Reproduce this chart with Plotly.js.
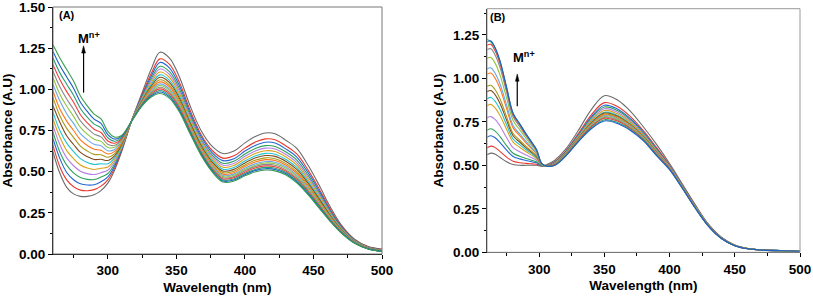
<!DOCTYPE html>
<html>
<head>
<meta charset="utf-8">
<script src="https://cdn.plot.ly/plotly-3.0.1.min.js"></script>
<style>html,body{margin:0;padding:0;background:#fff;}#chart{width:813px;height:296px;}</style>
</head>
<body>
<div id="chart"></div>
<script>
// ---------- Tick values ----------
const xTicks = [300, 350, 400, 450, 500];
const yTicksA = [0, 0.25, 0.5, 0.75, 1.0, 1.25, 1.5];
const yTicksB = [0, 0.25, 0.5, 0.75, 1.0, 1.25];

// ---------- Panel A data ----------
const wlA = [260,265,270,275,280,285,290,295,300,305,310,318,325,332,338,345,352,360,368,376,384,392,400,408,415,422,430,438,446,454,462,470,480,490,500];
const A0  = [.62,.49,.405,.365,.35,.35,.36,.385,.43,.51,.62,.825,.98,1.13,1.225,1.19,1.08,.90,.75,.655,.61,.625,.675,.715,.735,.73,.69,.64,.54,.42,.29,.18,.09,.045,.03];
const A1  = [.66,.53,.45,.408,.388,.384,.391,.412,.45,.523,.626,.824,.967,1.102,1.185,1.151,1.046,.873,.726,.63,.582,.596,.643,.681,.699,.694,.656,.606,.511,.398,.276,.172,.086,.043,.028];
const A2  = [.70,.58,.495,.451,.426,.419,.421,.439,.469,.535,.633,.824,.96,1.086,1.163,1.129,1.026,.857,.713,.616,.567,.579,.625,.661,.679,.674,.637,.587,.495,.385,.267,.168,.084,.041,.026];
const A3  = [.74,.62,.54,.493,.464,.453,.452,.467,.489,.548,.639,.823,.953,1.07,1.14,1.107,1.007,.842,.699,.602,.551,.563,.607,.642,.658,.653,.619,.569,.479,.372,.259,.163,.082,.04,.025];
const A4  = [.78,.665,.584,.536,.503,.488,.483,.494,.509,.56,.645,.823,.947,1.058,1.123,1.09,.992,.83,.689,.591,.539,.55,.593,.627,.643,.638,.604,.554,.466,.363,.253,.16,.08,.039,.024];
const A5  = [.82,.71,.628,.579,.541,.522,.513,.521,.528,.573,.651,.822,.942,1.046,1.105,1.072,.977,.818,.678,.581,.527,.538,.579,.612,.627,.622,.589,.539,.454,.353,.247,.156,.078,.038,.023];
const A6  = [.86,.75,.673,.622,.579,.556,.544,.548,.548,.585,.658,.821,.936,1.034,1.088,1.055,.962,.806,.668,.57,.515,.525,.565,.597,.611,.606,.574,.524,.441,.343,.24,.153,.076,.037,.022];
const A7  = [.90,.80,.718,.665,.617,.591,.574,.575,.568,.598,.664,.821,.931,1.023,1.073,1.041,.949,.796,.659,.56,.504,.514,.553,.584,.598,.593,.562,.512,.43,.335,.235,.15,.075,.036,.021];
const A8  = [.95,.84,.763,.708,.655,.625,.605,.603,.588,.61,.67,.82,.926,1.013,1.058,1.026,.936,.786,.65,.551,.494,.503,.541,.571,.584,.579,.549,.499,.419,.326,.23,.147,.073,.035,.02];
const A9  = [.99,.88,.807,.75,.693,.659,.636,.63,.607,.623,.676,.82,.922,1.004,1.045,1.014,.925,.778,.642,.543,.485,.494,.531,.56,.573,.568,.539,.489,.41,.319,.225,.144,.072,.034,.019];
const A10 = [1.03,.93,.852,.793,.731,.694,.666,.657,.627,.635,.683,.819,.918,.995,1.033,1.001,.914,.769,.635,.536,.477,.485,.521,.549,.562,.557,.528,.478,.401,.312,.221,.142,.071,.033,.018];
const A11 = [1.07,.97,.897,.836,.769,.728,.697,.684,.647,.648,.689,.819,.915,.988,1.023,.992,.906,.762,.629,.529,.47,.478,.513,.541,.553,.548,.52,.47,.394,.307,.217,.14,.07,.033,.018];
const A12 = [1.11,1.015,.941,.879,.808,.763,.728,.711,.666,.66,.695,.818,.912,.981,1.013,.982,.897,.755,.623,.523,.463,.47,.505,.532,.544,.539,.511,.461,.387,.301,.213,.138,.069,.032,.017];
const A13 = [1.15,1.06,.986,.922,.846,.797,.758,.738,.686,.673,.701,.817,.909,.974,1.003,.972,.889,.749,.617,.517,.456,.463,.497,.524,.535,.53,.503,.453,.38,.295,.21,.136,.068,.032,.017];
const A14 = [1.19,1.10,1.031,.964,.884,.831,.789,.766,.706,.685,.708,.817,.906,.967,.993,.962,.88,.742,.611,.511,.449,.456,.489,.515,.526,.521,.495,.445,.373,.29,.206,.134,.067,.031,.016];
const A15 = [1.23,1.145,1.075,1.007,.922,.866,.819,.793,.725,.698,.714,.816,.903,.961,.984,.954,.873,.736,.605,.505,.443,.449,.482,.508,.518,.513,.487,.437,.366,.285,.203,.132,.066,.031,.016];
const A16 = [1.27,1.19,1.12,1.05,.96,.90,.85,.82,.745,.71,.72,.815,.90,.955,.975,.945,.865,.73,.60,.50,.437,.443,.475,.50,.51,.505,.48,.43,.36,.28,.20,.13,.065,.03,.015];

// ---------- Panel B data ----------
const wlB = [260,263,266,270,275,280,285,290,295,298,302,306,312,320,330,340,350,360,370,380,390,400,410,420,430,440,450,460,470,485,500];
const B0  = [.56,.57,.565,.545,.52,.505,.50,.50,.50,.50,.495,.505,.53,.59,.70,.82,.90,.875,.81,.72,.62,.51,.39,.27,.16,.085,.042,.022,.014,.01,.007];
const B1  = [.60,.61,.603,.579,.547,.523,.515,.511,.508,.506,.496,.50,.522,.579,.682,.79,.86,.838,.78,.698,.602,.50,.383,.264,.157,.083,.041,.021,.014,.01,.007];
const B2  = [.661,.67,.66,.631,.587,.551,.537,.528,.519,.514,.497,.499,.519,.575,.675,.778,.845,.824,.768,.69,.595,.497,.381,.262,.155,.082,.04,.021,.014,.01,.007];
const B3  = [.701,.71,.698,.665,.613,.569,.552,.539,.527,.52,.498,.498,.517,.572,.671,.771,.835,.815,.761,.684,.591,.494,.379,.261,.155,.082,.04,.021,.014,.01,.007];
const B4  = [.772,.78,.765,.726,.66,.601,.578,.559,.541,.529,.50,.497,.514,.569,.666,.763,.825,.805,.753,.679,.586,.492,.377,.26,.154,.081,.04,.021,.013,.01,.007];
const B5  = [.842,.85,.832,.786,.707,.633,.604,.578,.554,.539,.502,.497,.512,.567,.662,.756,.815,.796,.746,.673,.582,.489,.375,.258,.153,.081,.04,.021,.013,.01,.007];
const B6  = [.882,.89,.87,.82,.733,.651,.619,.589,.562,.545,.502,.496,.51,.564,.657,.748,.805,.787,.738,.668,.577,.487,.374,.257,.152,.08,.039,.021,.013,.01,.006];
const B7  = [.923,.93,.908,.855,.76,.67,.634,.60,.57,.55,.503,.496,.509,.562,.655,.744,.80,.782,.734,.665,.575,.486,.373,.256,.152,.08,.039,.021,.013,.009,.006];
const B8  = [.953,.96,.937,.881,.78,.683,.645,.609,.576,.554,.504,.496,.508,.561,.653,.74,.795,.777,.73,.662,.573,.485,.372,.256,.151,.08,.039,.02,.013,.009,.006];
const B9  = [1.023,1.03,1.003,.941,.827,.715,.671,.628,.589,.564,.506,.495,.507,.56,.651,.737,.79,.773,.727,.659,.571,.483,.371,.255,.151,.08,.039,.02,.013,.009,.006];
const B10 = [1.054,1.06,1.032,.967,.847,.729,.682,.637,.595,.568,.506,.495,.506,.558,.648,.733,.785,.768,.723,.657,.568,.482,.37,.254,.15,.079,.039,.02,.013,.009,.006];
const B11 = [1.114,1.12,1.09,1.018,.887,.757,.705,.654,.607,.577,.508,.495,.505,.557,.646,.729,.78,.763,.719,.654,.566,.481,.369,.253,.15,.079,.039,.02,.013,.009,.006];
const B12 = [1.165,1.17,1.137,1.061,.92,.779,.723,.667,.616,.584,.509,.495,.504,.556,.644,.725,.775,.759,.715,.651,.564,.48,.368,.253,.15,.079,.038,.02,.013,.009,.006];
const B13 = [1.19,1.195,1.161,1.083,.937,.791,.733,.674,.621,.587,.51,.495,.503,.554,.642,.721,.77,.754,.711,.648,.562,.479,.368,.252,.149,.079,.038,.02,.013,.009,.006];
const B14 = [1.225,1.21,1.175,1.096,.947,.798,.738,.679,.624,.589,.51,.495,.501,.552,.638,.715,.762,.746,.705,.644,.558,.477,.366,.251,.149,.078,.038,.02,.013,.009,.006];
const B15 = [1.21,1.215,1.18,1.10,.95,.80,.74,.68,.625,.59,.51,.495,.50,.55,.635,.71,.755,.74,.70,.64,.555,.475,.365,.25,.148,.078,.038,.02,.013,.009,.006];

const seriesA = [A0,A1,A2,A3,A4,A5,A6,A7,A8,A9,A10,A11,A12,A13,A14,A15,A16];
const seriesB = [B0,B1,B2,B3,B4,B5,B6,B7,B8,B9,B10,B11,B12,B13,B14,B15];
const palette = ['#6b6b6b','#e8392f','#2466d4','#2fa15a','#b57fe3','#d9a21a','#22c3d3','#7c4a1e','#a89a1c','#ff7417','#6aa6ea','#8ec63f','#8a8a8a','#f03c3c','#2aa070','#1f5fc8','#3a9e50'];

const FONT = '"Liberation Sans", Arial, sans-serif';
const traces = [];
seriesA.forEach((ys, i) => traces.push({x: wlA, y: ys, type: 'scatter', mode: 'lines', xaxis: 'x', yaxis: 'y',
  line: {color: palette[i % palette.length], width: 1.1, shape: 'spline', smoothing: 1}, showlegend: false, hoverinfo: 'skip'}));
seriesB.forEach((ys, i) => traces.push({x: wlB, y: ys, type: 'scatter', mode: 'lines', xaxis: 'x2', yaxis: 'y2',
  line: {color: palette[i % palette.length], width: 1.1, shape: 'spline', smoothing: 1}, showlegend: false, hoverinfo: 'skip'}));

const tickFont = {family: FONT, size: 13.5, color: '#000', weight: 700};
const titleFont = {family: FONT, size: 13.5, color: '#000', weight: 700};
function xAx(domain, anchor) {
  return {domain: domain, anchor: anchor, range: [260, 500], tickmode: 'array', tickvals: xTicks, ticks: 'outside', ticklen: 4, tickwidth: 1,
    tickcolor: '#000', showline: true, linecolor: '#000', linewidth: 1, showgrid: false, zeroline: false, ticklabeloverflow: 'allow',
    minor: {dtick: 25, tick0: 0, ticks: 'outside', ticklen: 2.5, tickcolor: '#000', showgrid: false},
    tickfont: tickFont, title: {text: 'Wavelength (nm)', font: titleFont, standoff: 5}};
}
function yAx(domain, anchor, range, tv) {
  return {domain: domain, anchor: anchor, range: range, tickmode: 'array', tickvals: tv, tickformat: '.2f', ticks: 'outside', ticklen: 4,
    tickwidth: 1, tickcolor: '#000', showline: true, linecolor: '#000', linewidth: 1, showgrid: false, zeroline: false, ticklabeloverflow: 'allow',
    minor: {dtick: 0.125, tick0: 0, ticks: 'outside', ticklen: 2.5, tickcolor: '#000', showgrid: false},
    tickfont: tickFont, title: {text: 'Absorbance (A.U)', font: titleFont, standoff: 6}};
}

// arrow shafts drawn as shapes (text labels are annotations)
function arrowShapes(xr, yr, x, yTail, yHead, halfW, headH) {
  return [
    {type: 'line', xref: xr, yref: yr, x0: x, x1: x, y0: yTail, y1: yHead - headH * 0.6, line: {color: '#000', width: 1.2}},
    {type: 'path', xref: xr, yref: yr, path: `M ${x - halfW},${yHead - headH} L ${x + halfW},${yHead - headH} L ${x},${yHead} Z`,
      fillcolor: '#000', line: {color: '#000', width: 0.5}}
  ];
}

const layout = {
  width: 813, height: 296, margin: {l: 0, r: 0, t: 0, b: 0}, paper_bgcolor: '#fff', plot_bgcolor: '#fff',
  xaxis: xAx([53/813, 382/813], 'y'),
  yaxis: yAx([42/296, 289/296], 'x', [0, 1.5], yTicksA),
  xaxis2: xAx([487/813, 800/813], 'y2'),
  yaxis2: yAx([43.7/296, 287.3/296], 'x2', [0, 1.4], yTicksB),
  shapes: [
    {type: 'rect', xref: 'x domain', yref: 'y domain', x0: 0, x1: 1, y0: 0, y1: 1, line: {color: '#777', width: 1}, layer: 'above'},
    {type: 'rect', xref: 'x2 domain', yref: 'y2 domain', x0: 0, x1: 1, y0: 0, y1: 1, line: {color: '#999', width: 1}, layer: 'above'},
    ...arrowShapes('x', 'y', 282.3, 0.98, 1.265, 1.4, 0.045),
    ...arrowShapes('x2', 'y2', 283.2, 0.84, 1.025, 1.4, 0.042)
  ],
  annotations: [
    {xref: 'x', yref: 'y', x: 263, y: 1.45, text: '<b>(A)</b>', showarrow: false, xanchor: 'left', yanchor: 'middle', font: {family: FONT, size: 11, color: '#000'}},
    {xref: 'x', yref: 'y', x: 286, y: 1.31, text: '<b>M<sup>n+</sup></b>', showarrow: false, xanchor: 'center', yanchor: 'middle', font: {family: FONT, size: 13, color: '#000'}},
    {xref: 'x2', yref: 'y2', x: 260.8, y: 1.35, text: '<b>(B)</b>', showarrow: false, xanchor: 'left', yanchor: 'middle', font: {family: FONT, size: 11, color: '#000'}},
    {xref: 'x2', yref: 'y2', x: 288.5, y: 1.12, text: '<b>M<sup>n+</sup></b>', showarrow: false, xanchor: 'center', yanchor: 'middle', font: {family: FONT, size: 13, color: '#000'}}
  ]
};

Plotly.newPlot('chart', traces, layout, {staticPlot: true, displayModeBar: false});
</script>
</body>
</html>
